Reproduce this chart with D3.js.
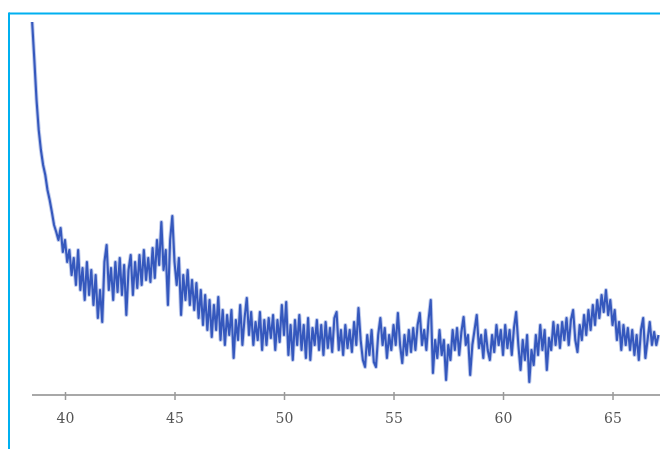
<!DOCTYPE html>
<html>
<head>
<meta charset="utf-8">
<script src="https://cdn.jsdelivr.net/npm/d3@7"></script>
<style>
  html, body { margin: 0; padding: 0; background: #fff; }
  svg { display: block; }
</style>
</head>
<body>
<svg id="chart" width="660" height="449"></svg>
<script>
// 2-theta sampling grid (degrees) and measured intensity (arbitrary units)
const twoThetaStart = 38.5;
const twoThetaStep = 0.1;
const intensity = [
  373,335,295,265,245,230,220,205,195,183,170,
  163,155,167,143,155,133,145,120,137,110,145,105,127,95,133,100,125,90,120,77,105,73,
  133,150,105,127,95,133,103,137,100,130,80,125,140,100,133,107,140,110,145,115,137,113,
  147,117,155,130,173,125,145,90,155,179,133,110,137,80,120,95,125,90,115,85,112,77,105,
  70,100,65,95,58,90,65,98,55,85,50,80,60,85,37,75,55,90,50,77,97,60,83,50,73,55,83,45,
  75,50,77,57,80,45,75,53,90,60,93,40,70,35,75,50,80,45,70,37,77,35,67,50,75,45,70,40,73,
  47,67,43,77,83,45,65,40,70,47,65,43,73,50,87,55,35,28,60,40,65,33,28,60,77,50,67,37,60,
  45,70,50,82,50,32,60,40,65,43,67,45,70,82,50,65,45,75,95,22,55,37,65,40,55,15,50,35,65,
  45,67,40,63,78,50,60,20,50,65,80,47,60,37,65,45,35,60,43,70,50,65,40,70,47,65,40,67,83,
  50,25,55,35,60,13,45,30,60,40,70,45,65,25,57,45,73,50,70,47,73,55,77,50,75,85,55,43,70,
  55,80,60,85,65,90,70,95,77,100,83,105,80,95,70,85,55,73,45,70,50,67,45,65,40,60,35,65,
  77,37,55,73,50,63,50,60
];
const tickValues = [40, 45, 50, 55, 60, 65];

const data = intensity.map((v, i) => ({ x: twoThetaStart + i * twoThetaStep, y: v }));

const svg = d3.select("#chart");

const x = d3.scaleLinear().domain([38.5, 67.2]).range([32.15, 660.7]);
const y = d3.scaleLinear().domain([0, 380]).range([395, 15]);

const defs = svg.append("defs");
defs.append("clipPath").attr("id", "clip")
  .append("rect").attr("x", 20).attr("y", 15).attr("width", 640).attr("height", 380);
defs.append("filter").attr("id", "soft").attr("x", "-5%").attr("y", "-5%")
  .attr("width", "110%").attr("height", "110%")
  .append("feGaussianBlur").attr("stdDeviation", 0.7);
defs.append("filter").attr("id", "softText")
  .append("feGaussianBlur").attr("stdDeviation", 0.45);

// frame
svg.append("line").attr("x1", 9).attr("x2", 660).attr("y1", 13.5).attr("y2", 13.5)
  .attr("stroke", "#00b0f0").attr("stroke-width", 2);
svg.append("line").attr("x1", 9).attr("x2", 9).attr("y1", 12.5).attr("y2", 449)
  .attr("stroke", "#00b0f0").attr("stroke-width", 2);

// axis
const axis = d3.axisBottom(x).tickValues(tickValues).tickSize(5).tickSizeOuter(0)
  .tickFormat(d3.format("d"));
const gx = svg.append("g").attr("transform", "translate(0,395)").call(axis);
gx.select(".domain").attr("stroke", "#a8a8a8").attr("stroke-width", 2.2)
  .attr("d", `M32,0H660`);
gx.selectAll(".tick line").attr("stroke", "#999").attr("stroke-width", 1.5).attr("y1", -3);
gx.selectAll(".tick text").attr("fill", "#555").attr("font-size", 14)
  .attr("font-family", "DejaVu Serif, serif").attr("dy", "1.45em")
  .attr("filter", "url(#softText)");

// spectrum
const line = d3.line().x(d => x(d.x)).y(d => y(d.y));
const g = svg.append("g").attr("clip-path", "url(#clip)");
g.append("path").datum(data).attr("d", line).attr("fill", "none")
  .attr("stroke", "#7f98da").attr("stroke-width", 4).attr("stroke-opacity", 0.5)
  .attr("stroke-linejoin", "round").attr("filter", "url(#soft)");
g.append("path").datum(data).attr("d", line).attr("fill", "none")
  .attr("stroke", "#3658bd").attr("stroke-width", 2.1)
  .attr("stroke-linejoin", "round").attr("filter", "url(#soft)");
</script>
</body>
</html>
